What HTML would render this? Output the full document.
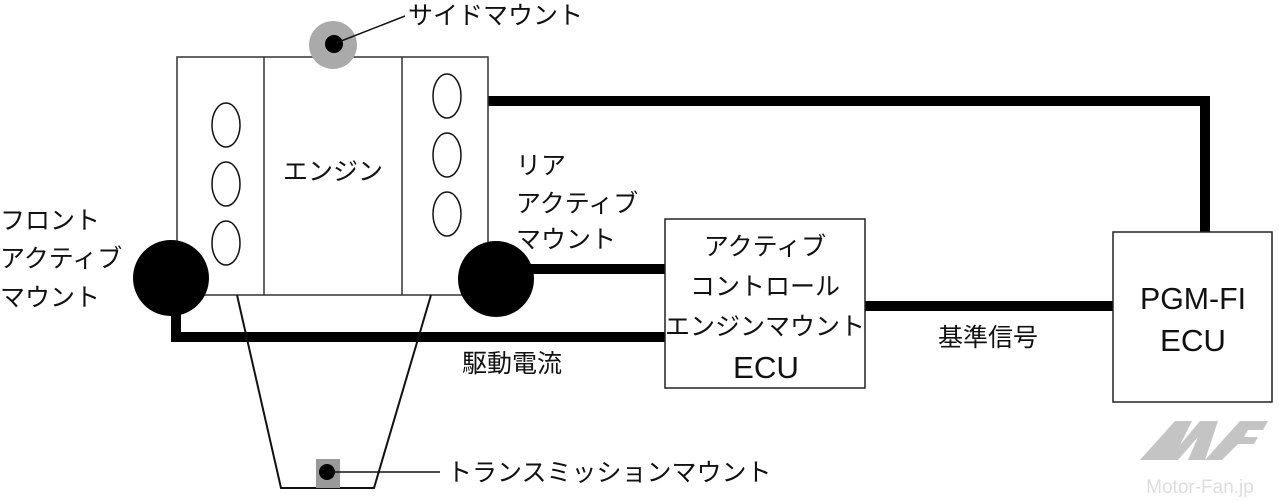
<!DOCTYPE html>
<html><head><meta charset="utf-8"><style>
html,body{margin:0;padding:0;background:#fff;}
svg{display:block;}
text{font-family:"Liberation Sans","Noto Sans CJK JP",sans-serif;font-size:25px;fill:#111;}
.l{font-size:31px;}
</style></head><body>
<svg width="1279" height="501" viewBox="0 0 1279 501" xmlns="http://www.w3.org/2000/svg">
<g stroke="#000" stroke-width="10" fill="none">
<polyline points="488,101 1205,101 1205,232"/>
<line x1="496" y1="269" x2="665" y2="269"/>
<polyline points="176,285 176,337 665,337"/>
<line x1="865" y1="306" x2="1113" y2="306"/>
</g>
<g stroke="#333" stroke-width="1.5" fill="#fff">
<rect x="177" y="57" width="311" height="238"/>
<line x1="264" y1="57" x2="264" y2="295"/>
<line x1="402" y1="57" x2="402" y2="295"/>
</g>
<g stroke="#111" stroke-width="1.5" fill="#fff">
<ellipse cx="226" cy="125" rx="14" ry="22"/>
<ellipse cx="226" cy="184" rx="14" ry="22"/>
<ellipse cx="226" cy="243" rx="14" ry="22"/>
<ellipse cx="447" cy="96" rx="14" ry="22"/>
<ellipse cx="447" cy="155" rx="14" ry="22"/>
<ellipse cx="447" cy="214" rx="14" ry="22"/>
</g>
<polyline points="237,295 281,488 374,488 431,295" fill="none" stroke="#111" stroke-width="2"/>
<rect x="316" y="459" width="24" height="29" fill="#999"/>
<circle cx="327" cy="472" r="8" fill="#000"/>
<line x1="327" y1="472" x2="440" y2="472" stroke="#111" stroke-width="1.5"/>
<circle cx="333" cy="45" r="24" fill="#aaa"/>
<circle cx="334" cy="44" r="9" fill="#000"/>
<line x1="336" y1="43" x2="405" y2="16" stroke="#111" stroke-width="1.5"/>
<circle cx="171" cy="278" r="38" fill="#000"/>
<circle cx="496" cy="279" r="38" fill="#000"/>
<rect x="665" y="219" width="200" height="169" fill="#fff" stroke="#222" stroke-width="1.5"/>
<rect x="1113" y="232" width="159" height="170" fill="#fff" stroke="#222" stroke-width="1.5"/>
<text x="408" y="24">サイドマウント</text>
<text x="333" y="180" text-anchor="middle">エンジン</text>
<text x="0" y="229">フロント</text>
<text x="0" y="267">アクティブ</text>
<text x="0" y="306">マウント</text>
<text x="516" y="174">リア</text>
<text x="516" y="212">アクティブ</text>
<text x="516" y="248">マウント</text>
<text x="765" y="255" text-anchor="middle">アクティブ</text>
<text x="765" y="295" text-anchor="middle">コントロール</text>
<text x="765" y="335" text-anchor="middle">エンジンマウント</text>
<text class="l" x="766" y="378" text-anchor="middle" textLength="66" lengthAdjust="spacingAndGlyphs">ECU</text>
<text class="l" x="1193" y="309" text-anchor="middle" textLength="106" lengthAdjust="spacingAndGlyphs">PGM-FI</text>
<text class="l" x="1193" y="351" text-anchor="middle" textLength="66" lengthAdjust="spacingAndGlyphs">ECU</text>
<text x="988" y="346" text-anchor="middle">基準信号</text>
<text x="462" y="372">駆動電流</text>
<text x="447" y="481">トランスミッションマウント</text>
<g fill="#c4c4c4">
<polygon points="1140,460 1175,421 1192,421 1180,445 1200,421 1218,421 1205,460 1188,460 1198,437 1178,460"/>
<polygon points="1205,460 1240,421 1268,421 1263,430 1248,430 1244,437 1258,437 1254,444 1238,444 1222,460"/>
<text x="1200" y="493" text-anchor="middle" style="font-size:19px;fill:#ddd;">Motor-Fan.jp</text>
</g>
</svg>
</body></html>
